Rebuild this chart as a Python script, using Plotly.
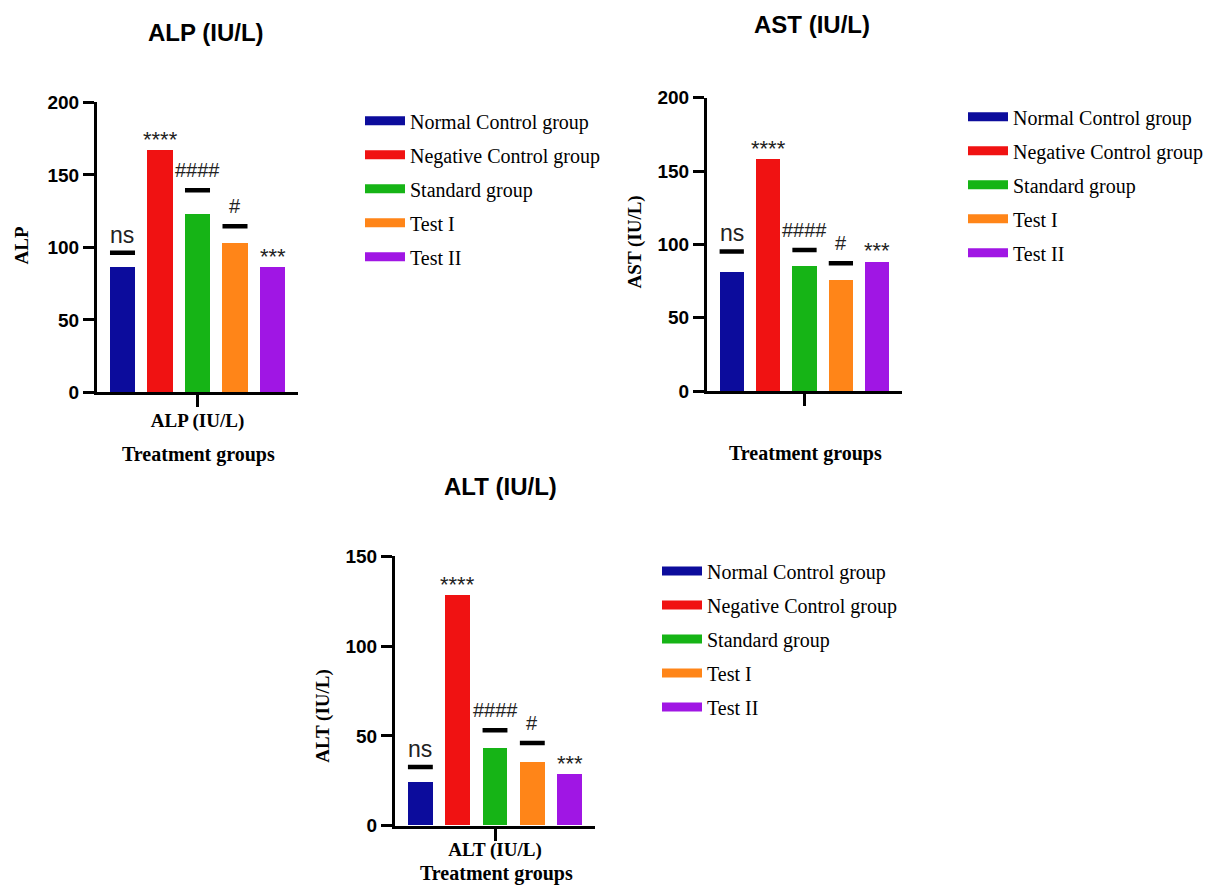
import plotly.graph_objects as go

# ---------------- data ----------------
groups = ["Normal Control group", "Negative Control group", "Standard group", "Test I", "Test II"]
colors = ["#0C0C9C", "#F01212", "#16B416", "#FF8518", "#A016E4"]

alp_values = [86.4, 167.0, 122.8, 102.8, 86.4]
alp_lines = [96.3, None, 139.4, 114.5, None]

ast_values = [81.4, 158.4, 85.7, 75.7, 88.6]
ast_lines = [95.2, None, 96.2, 87.2, None]

alt_values = [24.1, 128.3, 42.9, 35.5, 28.6]
alt_lines = [32.7, None, 53.1, 46.0, None]

sig_marks = ["ns", "****", "####", "#", "***"]

alp_ticks = [0, 50, 100, 150, 200]
ast_ticks = [0, 50, 100, 150, 200]
alt_ticks = [0, 50, 100, 150]

panel_titles = ["ALP (IU/L)", "AST (IU/L)", "ALT (IU/L)"]
y_titles = ["ALP", "AST (IU/L)", "ALT (IU/L)"]
x_tick_labels = ["ALP (IU/L)", "", "ALT (IU/L)"]
x_title = "Treatment groups"

# ---------------- layout geometry ----------------
W, H = 1210, 892
# small vertical compensation for the capture
CY, COMP = 446.0, 0.976


def px(x):
    return x / W


def py(y):
    return 1 - (CY + (y - CY) / COMP) / H


panels = [
    dict(values=alp_values, lines=alp_lines, ticks=alp_ticks, box=(97, 298, 393, 103),
         title_xy=(206, 33), ytitle_xy=(21, 246), xtitle_xy=(198, 455), legend_xy=(360, 102),
         standoff=-3),
    dict(values=ast_values, lines=ast_lines, ticks=ast_ticks, box=(707, 902, 391.7, 98.3),
         title_xy=(812, 25), ytitle_xy=(635, 243), xtitle_xy=(805, 454), legend_xy=(963, 98),
         standoff=0),
    dict(values=alt_values, lines=alt_lines, ticks=alt_ticks, box=(395, 595, 826, 556.7),
         title_xy=(500, 487), ytitle_xy=(323, 717), xtitle_xy=(497, 874), legend_xy=(657, 552),
         standoff=-7),
]

BAR_W = 0.667
SANS = "Liberation Sans"
SERIF = "Liberation Serif"

fig = go.Figure()
annotations = []
shapes = []

for p_i, p in enumerate(panels):
    sfx = "" if p_i == 0 else str(p_i + 1)
    xa, ya = "x" + sfx, "y" + sfx
    leg = "legend" + sfx
    idx = list(range(len(groups)))
    for i, g in enumerate(groups):
        grp = f"p{p_i}_{i}"
        fig.add_trace(go.Bar(
            x=[idx[i]], y=[p["values"][i]], width=BAR_W, name=g,
            marker=dict(color=colors[i], line=dict(width=0)),
            xaxis=xa, yaxis=ya, showlegend=False, legendgroup=grp,
            hovertemplate=g + ": %{y}<extra></extra>",
        ))
        # legend entry with a wide swatch
        fig.add_trace(go.Scatter(
            x=[None], y=[None], mode="lines", name=g,
            line=dict(color=colors[i], width=9),
            xaxis=xa, yaxis=ya, legend=leg, legendgroup=grp, showlegend=True,
        ))

    x0, x1, yb, yt = p["box"]
    top = p["ticks"][-1]
    ax_common = dict(showline=True, linecolor="black", linewidth=3, ticks="outside",
                     tickcolor="black", tickwidth=3, showgrid=False, zeroline=False)
    fig.layout["xaxis" + sfx] = dict(
        domain=[px(x0), px(x1)], range=[-0.68, 4.68], anchor=ya,
        tickvals=[2], ticktext=[x_tick_labels[p_i]], ticklen=12,
        ticklabelstandoff=p["standoff"],
        tickfont=dict(family=SERIF, size=19, color="black", weight="bold"),
        **ax_common)
    fig.layout["yaxis" + sfx] = dict(
        domain=[py(yb), py(yt)], range=[0, top], anchor=xa,
        tickvals=p["ticks"], ticklen=11,
        tickfont=dict(family=SANS, size=19, color="black", weight="bold"),
        **ax_common)

    # significance bars and marks
    for i, m in enumerate(sig_marks):
        lvl = p["lines"][i]
        if lvl is not None:
            shapes.append(dict(type="line", xref=xa, yref=ya,
                               x0=idx[i] - BAR_W / 2, x1=idx[i] + BAR_W / 2,
                               y0=lvl, y1=lvl, line=dict(color="black", width=4.5)))
            ref = lvl
        else:
            ref = p["values"][i]
        if m == "ns":
            fnt, shift = dict(family=SANS, size=23, color="#222"), 3
        elif m.startswith("#"):
            fnt, shift = dict(family=SANS, size=20, color="#222"), 7
        else:
            fnt, shift = dict(family=SANS, size=22, color="#222"), -4
        annotations.append(dict(xref=xa, yref=ya, x=idx[i], y=ref, text=m, showarrow=False,
                                yanchor="bottom", yshift=shift, font=fnt))

    tx, ty = p["title_xy"]
    annotations.append(dict(xref="paper", yref="paper", x=px(tx), y=py(ty), text=panel_titles[p_i],
                            showarrow=False, xanchor="center", yanchor="middle",
                            font=dict(family=SANS, size=24, color="black", weight="bold")))
    yx, yy = p["ytitle_xy"]
    annotations.append(dict(xref="paper", yref="paper", x=px(yx), y=py(yy), text=y_titles[p_i],
                            showarrow=False, xanchor="center", yanchor="middle", textangle=-90,
                            font=dict(family=SERIF, size=19, color="black", weight="bold")))
    gx, gy = p["xtitle_xy"]
    annotations.append(dict(xref="paper", yref="paper", x=px(gx), y=py(gy), text=x_title,
                            showarrow=False, xanchor="center", yanchor="middle",
                            font=dict(family=SERIF, size=20, color="black", weight="bold")))

    lx, ly = p["legend_xy"]
    fig.layout[leg] = dict(x=px(lx), y=py(ly), xanchor="left", yanchor="top",
                           font=dict(family=SERIF, size=20, color="black"),
                           traceorder="grouped", tracegroupgap=5, bgcolor="rgba(0,0,0,0)",
                           borderwidth=0, itemwidth=40)

fig.update_layout(width=W, height=H, margin=dict(l=0, r=0, t=0, b=0),
                  paper_bgcolor="white", plot_bgcolor="white",
                  annotations=annotations, shapes=shapes, bargap=0)

fig.write_html("out.html", config={"displayModeBar": False},
               post_script="document.body.style.margin='0';document.body.style.overflow='hidden';")
